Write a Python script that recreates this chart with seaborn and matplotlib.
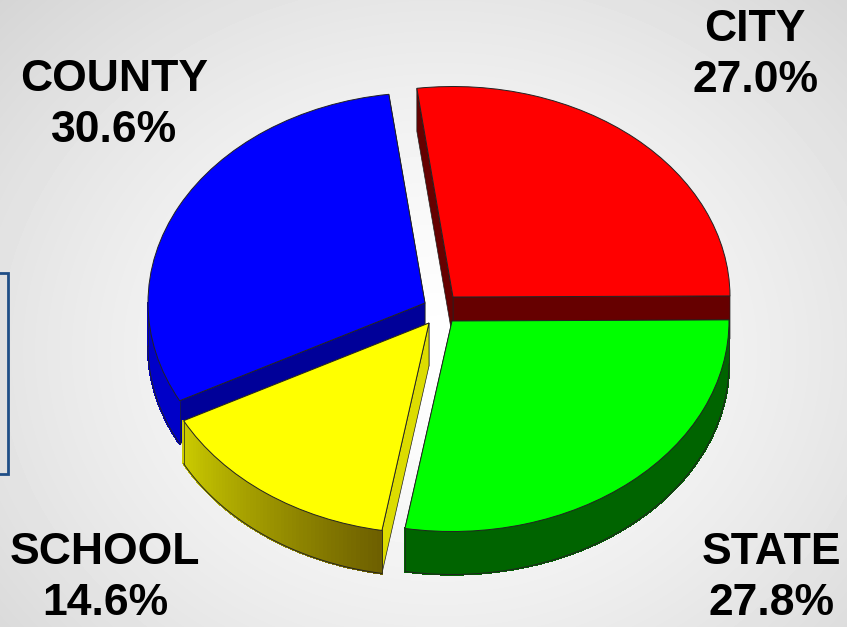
import numpy as np
import seaborn as sns
import matplotlib.pyplot as plt
from matplotlib.collections import PolyCollection
from matplotlib.patches import Rectangle
from matplotlib.transforms import Affine2D
from matplotlib.colors import to_rgb

labels = ['CITY', 'STATE', 'SCHOOL', 'COUNTY']
shares = [27.0, 27.8, 14.6, 30.6]

top_colors = ['#ff0000', '#00ff00', '#ffff00', '#0000ff']
wall_colors = ['#660000', '#006400', '#dcdc00', '#000099']
rim_start = ['#660000', '#006400', '#6e6000', '#0000c8']
rim_end = ['#660000', '#006400', '#cccc00', '#0000c8']

# where each slice's tip sits in the picture, and the label centres
tips = [(453, 297), (452, 321), (429, 323), (425, 303)]
label_pos = [(755, 55), (771, 578), (105, 578), (114, 105)]
rx, ry, depth = 277, 210.5, 43
draw_order = [0, 3, 1, 2]

sns.set_theme(style='white')
plt.rcParams['font.family'] = ['Liberation Sans', 'DejaVu Sans']

fig = plt.figure(figsize=(8.47, 6.27), dpi=100)
ax = fig.add_axes([0, 0, 1, 1])

# light grey backdrop, brightest in the middle
yy, xx = np.mgrid[0:627, 0:847]
dist = np.hypot((xx - 440) / 620, (yy - 350) / 520)
ax.imshow(1 - 0.17 * np.clip(dist, 0, 1) ** 1.4, cmap='gray', vmin=0, vmax=1,
          extent=(0, 847, 627, 0), aspect='auto', zorder=0)

wedges, _ = ax.pie(shares, startangle=97.5, counterclock=False, radius=1, frame=False)
ax.set_aspect('auto')
ax.set_xlim(0, 847)
ax.set_ylim(627, 0)


def point(tip, angle):
    a = np.radians(angle)
    return tip[0] + rx * np.cos(a), tip[1] - ry * np.sin(a)


def add_wall(tip, angle, color, z):
    ex, ey = point(tip, angle)
    quad = [tip, (ex, ey), (ex, ey + depth), (tip[0], tip[1] + depth)]
    ax.fill(*zip(*quad), facecolor=color, edgecolor='#222222', linewidth=0.5, zorder=z)


for z, i in enumerate(draw_order):
    base = 2 + z * 3
    wedge, tip = wedges[i], tips[i]
    t1, t2 = wedge.theta1 % 360, wedge.theta2 % 360
    if t2 <= t1:
        t2 += 360

    add_wall(tip, t1, wall_colors[i], base)
    add_wall(tip, t2, wall_colors[i], base)

    # outer rim: only the part of the arc on the lower half faces the viewer
    lo, hi = max(t1, 180), min(t2, 360)
    if hi > lo:
        steps = np.linspace(lo, hi, 60)
        quads, cols = [], []
        c0, c1 = np.array(to_rgb(rim_end[i])), np.array(to_rgb(rim_start[i]))
        for k in range(len(steps) - 1):
            p0, p1 = point(tip, steps[k]), point(tip, steps[k + 1])
            quads.append([p0, p1, (p1[0], p1[1] + depth), (p0[0], p0[1] + depth)])
            cols.append(c0 + (c1 - c0) * k / (len(steps) - 2))
        # no antialiasing here, it leaves thin stripes between the quads
        ax.add_collection(PolyCollection(quads, facecolors=cols, edgecolors=cols,
                                         linewidths=1, antialiaseds=False, zorder=base + 1))
        rim = np.array([point(tip, s) for s in steps])
        ax.plot(rim[:, 0], rim[:, 1] + depth, color='#222222', lw=0.7, zorder=base + 1)
        ax.plot([rim[0, 0]] * 2, [rim[0, 1], rim[0, 1] + depth], color='#222222', lw=0.5, zorder=base + 1)
        ax.plot([rim[-1, 0]] * 2, [rim[-1, 1], rim[-1, 1] + depth], color='#222222', lw=0.5, zorder=base + 1)

    wedge.set_facecolor(top_colors[i])
    wedge.set_edgecolor('#222222')
    wedge.set_linewidth(0.7)
    wedge.set_zorder(base + 2)
    wedge.set_transform(Affine2D().scale(rx, -ry).translate(*tip) + ax.transData)

for name, share, (x, y) in zip(labels, shares, label_pos):
    ax.text(x, y, f'{name}\n{share:.1f}%', ha='center', va='center', fontsize=32,
            fontweight='bold', color='black', linespacing=1.3, zorder=30)

# edge of the box cut off at the left side of the slide
ax.add_patch(Rectangle((-10, 273), 18, 201, facecolor='#e0e0e0', edgecolor='#1f4e86',
                       linewidth=2, zorder=1))

ax.axis('off')
fig.savefig('out.png', dpi=100)
